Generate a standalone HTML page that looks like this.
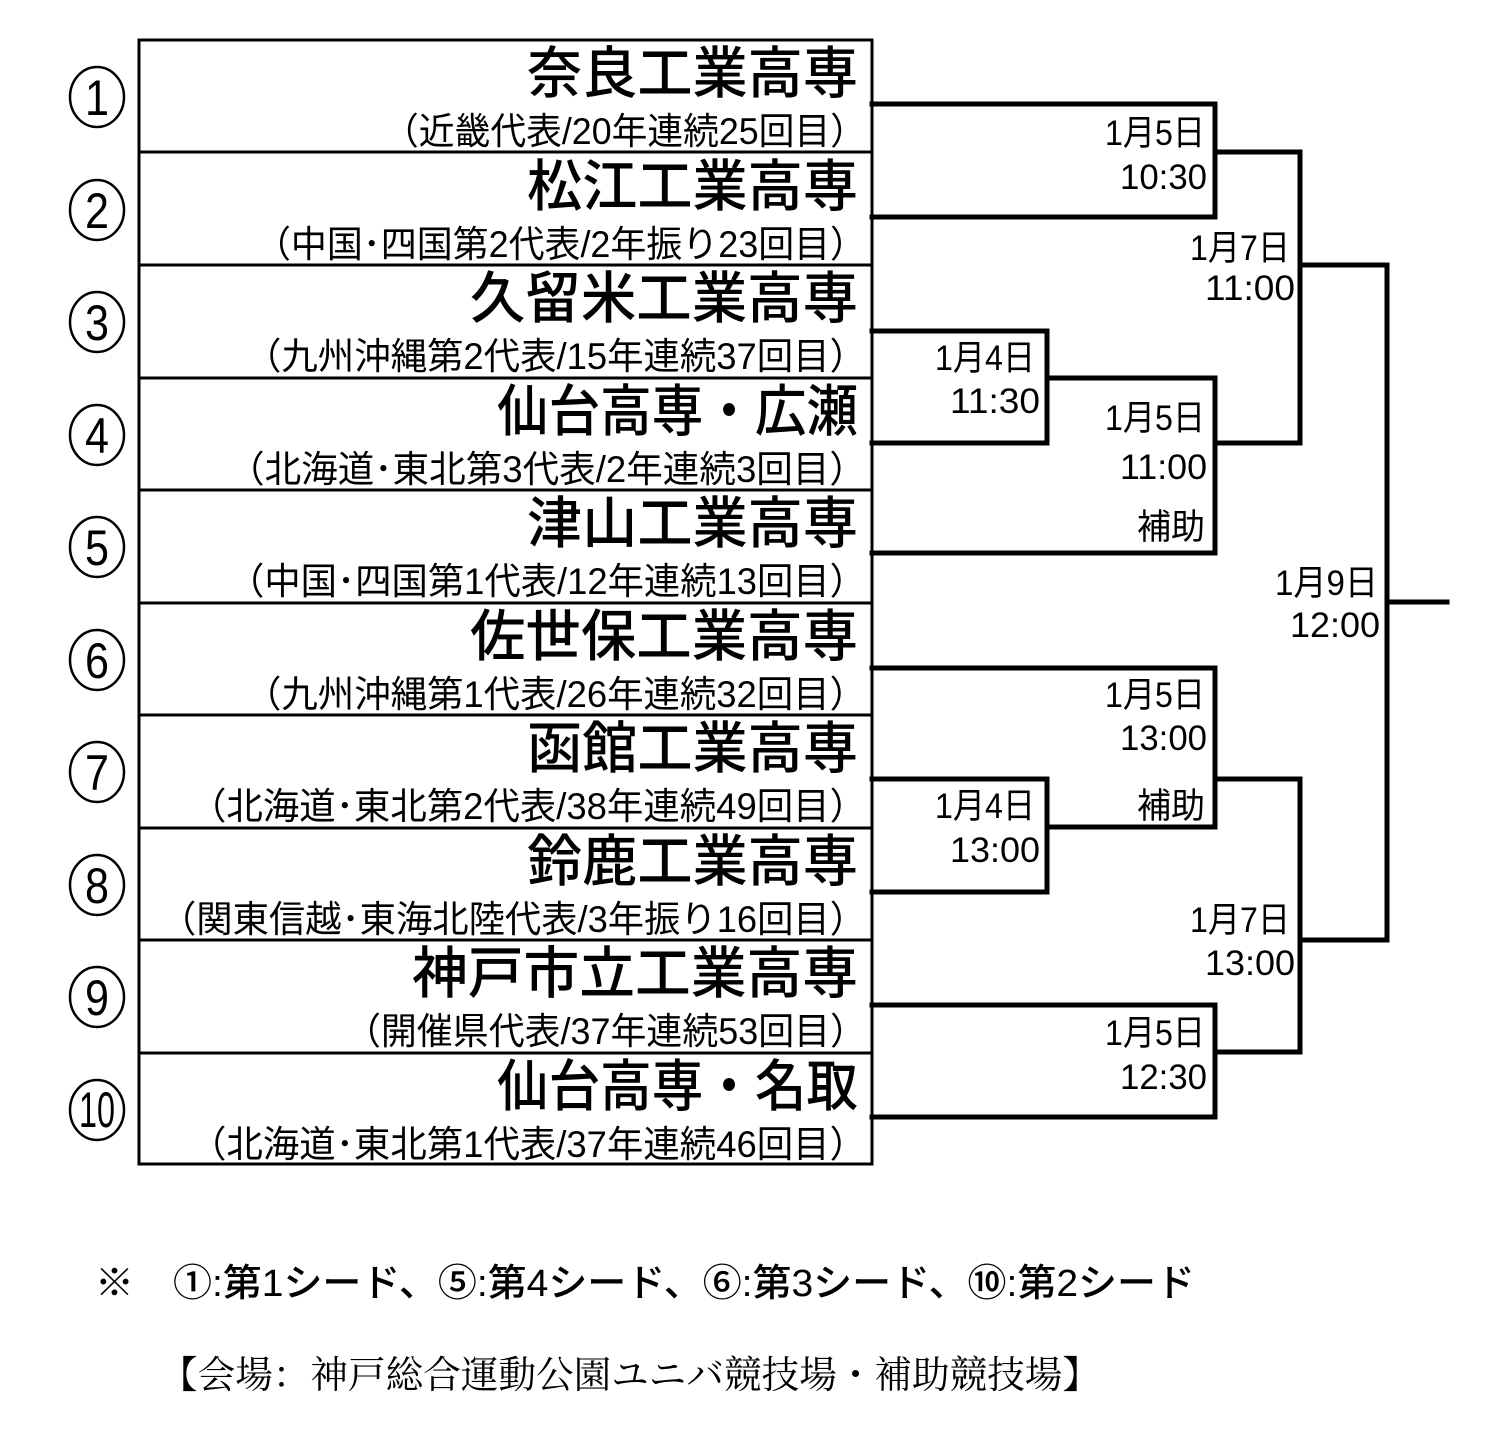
<!DOCTYPE html>
<html><head><meta charset="utf-8"><style>
html,body{margin:0;padding:0;background:#fff;}
svg{display:block;}
.n{font-family:"Liberation Sans","Noto Sans CJK JP",sans-serif;font-size:56px;font-weight:500;fill:#000;}
.s{font-family:"Liberation Sans","Noto Sans CJK JP",sans-serif;font-size:37px;fill:#000;}
.d{font-family:"Liberation Sans","Noto Sans CJK JP",sans-serif;font-size:35px;fill:#000;}
.c{font-family:"Liberation Sans",sans-serif;font-size:50px;fill:#000;}
</style></head><body>
<svg width="1500" height="1442" viewBox="0 0 1500 1442" xmlns="http://www.w3.org/2000/svg">
<rect x="0" y="0" width="1500" height="1442" fill="#fff"/>
<g stroke="#000" stroke-width="3" fill="none">
<rect x="139" y="40" width="733" height="1124"/>
<line x1="139" y1="152" x2="872" y2="152"/>
<line x1="139" y1="265" x2="872" y2="265"/>
<line x1="139" y1="378" x2="872" y2="378"/>
<line x1="139" y1="490" x2="872" y2="490"/>
<line x1="139" y1="603" x2="872" y2="603"/>
<line x1="139" y1="715" x2="872" y2="715"/>
<line x1="139" y1="828" x2="872" y2="828"/>
<line x1="139" y1="940" x2="872" y2="940"/>
<line x1="139" y1="1053" x2="872" y2="1053"/>
</g>
<g stroke="#000" stroke-width="5" fill="none" stroke-linejoin="miter" stroke-linecap="square">
<polyline points="872,104 1215,104 1215,217 872,217"/>
<polyline points="1215,152 1300,152 1300,443 1215,443"/>
<polyline points="872,331 1047,331 1047,443 872,443"/>
<polyline points="1047,378 1215,378 1215,553 872,553"/>
<polyline points="1300,265 1387,265 1387,940 1300,940"/>
<line x1="1387" y1="602" x2="1447" y2="602"/>
<polyline points="872,668 1215,668 1215,827 1047,827"/>
<polyline points="872,779 1047,779 1047,892 872,892"/>
<polyline points="1215,779 1300,779 1300,1052 1215,1052"/>
<polyline points="872,1005 1215,1005 1215,1117 872,1117"/>
</g>
<g stroke="#000" stroke-width="2.5" fill="none">
<ellipse cx="97" cy="97" rx="27" ry="30"/><ellipse cx="97" cy="210" rx="27" ry="30"/><ellipse cx="97" cy="322" rx="27" ry="30"/>
<ellipse cx="97" cy="435" rx="27" ry="30"/><ellipse cx="97" cy="547" rx="27" ry="30"/><ellipse cx="97" cy="660" rx="27" ry="30"/>
<ellipse cx="97" cy="772" rx="27" ry="30"/><ellipse cx="97" cy="885" rx="27" ry="30"/><ellipse cx="97" cy="997" rx="27" ry="30"/>
<ellipse cx="97" cy="1110" rx="27" ry="30"/>
</g>
<g class="c" text-anchor="middle">
<text x="97" y="115" textLength="24" lengthAdjust="spacingAndGlyphs">1</text><text x="97" y="228" textLength="24" lengthAdjust="spacingAndGlyphs">2</text><text x="97" y="340" textLength="24" lengthAdjust="spacingAndGlyphs">3</text>
<text x="97" y="453" textLength="24" lengthAdjust="spacingAndGlyphs">4</text><text x="97" y="565" textLength="24" lengthAdjust="spacingAndGlyphs">5</text><text x="97" y="678" textLength="24" lengthAdjust="spacingAndGlyphs">6</text>
<text x="97" y="790" textLength="24" lengthAdjust="spacingAndGlyphs">7</text><text x="97" y="903" textLength="24" lengthAdjust="spacingAndGlyphs">8</text><text x="97" y="1015" textLength="24" lengthAdjust="spacingAndGlyphs">9</text>
<text x="97" y="1127" textLength="36" lengthAdjust="spacingAndGlyphs">10</text>
</g>
<g class="n">
<text x="527" y="93" textLength="331" lengthAdjust="spacingAndGlyphs">奈良工業高専</text>
<text x="527" y="206" textLength="331" lengthAdjust="spacingAndGlyphs">松江工業高専</text>
<text x="470" y="318" textLength="388" lengthAdjust="spacingAndGlyphs">久留米工業高専</text>
<text x="497" y="431" textLength="361" lengthAdjust="spacingAndGlyphs">仙台高専・広瀬</text>
<text x="527" y="543" textLength="331" lengthAdjust="spacingAndGlyphs">津山工業高専</text>
<text x="470" y="656" textLength="388" lengthAdjust="spacingAndGlyphs">佐世保工業高専</text>
<text x="527" y="768" textLength="331" lengthAdjust="spacingAndGlyphs">函館工業高専</text>
<text x="527" y="881" textLength="331" lengthAdjust="spacingAndGlyphs">鈴鹿工業高専</text>
<text x="412" y="993" textLength="446" lengthAdjust="spacingAndGlyphs">神戸市立工業高専</text>
<text x="497" y="1106" textLength="361" lengthAdjust="spacingAndGlyphs">仙台高専・名取</text>
</g>
<g class="s">
<text x="383" y="144" textLength="483" lengthAdjust="spacingAndGlyphs">（近畿代表/20年連続25回目）</text>
<text x="255" y="257" textLength="611" lengthAdjust="spacingAndGlyphs">（中国･四国第2代表/2年振り23回目）</text>
<text x="245" y="369" textLength="621" lengthAdjust="spacingAndGlyphs">（九州沖縄第2代表/15年連続37回目）</text>
<text x="228" y="482" textLength="638" lengthAdjust="spacingAndGlyphs">（北海道･東北第3代表/2年連続3回目）</text>
<text x="228" y="594" textLength="638" lengthAdjust="spacingAndGlyphs">（中国･四国第1代表/12年連続13回目）</text>
<text x="245" y="707" textLength="621" lengthAdjust="spacingAndGlyphs">（九州沖縄第1代表/26年連続32回目）</text>
<text x="190" y="819" textLength="676" lengthAdjust="spacingAndGlyphs">（北海道･東北第2代表/38年連続49回目）</text>
<text x="160" y="932" textLength="706" lengthAdjust="spacingAndGlyphs">（関東信越･東海北陸代表/3年振り16回目）</text>
<text x="345" y="1044" textLength="521" lengthAdjust="spacingAndGlyphs">（開催県代表/37年連続53回目）</text>
<text x="190" y="1157" textLength="676" lengthAdjust="spacingAndGlyphs">（北海道･東北第1代表/37年連続46回目）</text>
</g>
<g class="d">
<text x="1105" y="145" textLength="100" lengthAdjust="spacingAndGlyphs">1月5日</text>
<text x="1120" y="189" textLength="87" lengthAdjust="spacingAndGlyphs">10:30</text>
<text x="1190" y="260" textLength="100" lengthAdjust="spacingAndGlyphs">1月7日</text>
<text x="1205" y="300" textLength="90" lengthAdjust="spacingAndGlyphs">11:00</text>
<text x="935" y="370" textLength="100" lengthAdjust="spacingAndGlyphs">1月4日</text>
<text x="950" y="413" textLength="90" lengthAdjust="spacingAndGlyphs">11:30</text>
<text x="1105" y="430" textLength="100" lengthAdjust="spacingAndGlyphs">1月5日</text>
<text x="1120" y="479" textLength="87" lengthAdjust="spacingAndGlyphs">11:00</text>
<text x="1137" y="539" textLength="68" lengthAdjust="spacingAndGlyphs">補助</text>
<text x="1275" y="595" textLength="103" lengthAdjust="spacingAndGlyphs">1月9日</text>
<text x="1290" y="637" textLength="90" lengthAdjust="spacingAndGlyphs">12:00</text>
<text x="1105" y="707" textLength="100" lengthAdjust="spacingAndGlyphs">1月5日</text>
<text x="1120" y="750" textLength="87" lengthAdjust="spacingAndGlyphs">13:00</text>
<text x="1137" y="818" textLength="68" lengthAdjust="spacingAndGlyphs">補助</text>
<text x="935" y="818" textLength="100" lengthAdjust="spacingAndGlyphs">1月4日</text>
<text x="950" y="862" textLength="90" lengthAdjust="spacingAndGlyphs">13:00</text>
<text x="1190" y="932" textLength="100" lengthAdjust="spacingAndGlyphs">1月7日</text>
<text x="1205" y="975" textLength="90" lengthAdjust="spacingAndGlyphs">13:00</text>
<text x="1105" y="1045" textLength="100" lengthAdjust="spacingAndGlyphs">1月5日</text>
<text x="1120" y="1089" textLength="87" lengthAdjust="spacingAndGlyphs">12:30</text>
</g>
<text x="95" y="1296" font-family="'Liberation Sans','Noto Sans CJK JP',sans-serif" font-size="38" font-weight="500" textLength="1100" lengthAdjust="spacingAndGlyphs">※　①:第1シード、⑤:第4シード、⑥:第3シード、⑩:第2シード</text>
<text x="160" y="1388" font-family="'Liberation Serif','Noto Serif CJK SC',serif" font-size="38" textLength="940" lengthAdjust="spacingAndGlyphs">【会場：神戸総合運動公園ユニバ競技場・補助競技場】</text>
</svg>
</body></html>
